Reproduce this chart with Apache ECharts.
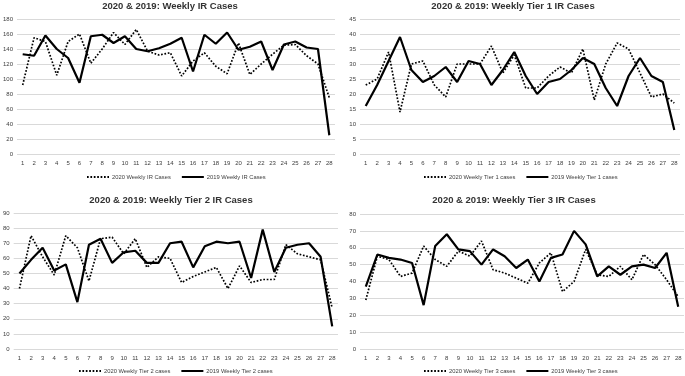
<!DOCTYPE html>
<html>
<head>
<meta charset="utf-8">
<script src="https://cdn.jsdelivr.net/npm/echarts@6/dist/echarts.min.js"></script>
<style>
  html, body { margin: 0; padding: 0; background: #fff; }
  #main { width: 685px; height: 376px; }
</style>
</head>
<body>
<div id="main"></div>
<script>
// weeks 1..28
var weeks = ['1', '2', '3', '4', '5', '6', '7', '8', '9', '10', '11', '12', '13', '14',
  '15', '16', '17', '18', '19', '20', '21', '22', '23', '24', '25', '26', '27', '28'];

// IR cases
var ir2020 = [92, 155, 150, 105, 150, 160, 121, 140, 162, 146, 166, 137, 132, 135, 104, 124, 135, 117, 107, 148, 106, 120, 133, 145, 146, 131, 120, 75];
var ir2019 = [133, 131, 158, 140, 128, 95, 157, 159, 148, 157, 140, 137, 141, 147, 155, 110, 159, 147, 162, 139, 143, 150, 112, 146, 150, 142, 140, 25];
// Tier 1
var t1_2020 = [23, 25, 34, 14, 30, 31, 23, 19, 30, 30, 30, 36, 27, 33, 22, 22, 26, 29, 27, 35, 18, 30, 37, 35, 27, 19, 20, 17];
var t1_2019 = [16, 23, 31, 39, 28, 24, 26, 29, 24, 31, 30, 23, 28, 34, 26, 20, 24, 25, 28, 32, 30, 22, 16, 26, 32, 26, 24, 8];
// Tier 2
var t2_2020 = [40, 75, 61, 49, 75, 67, 45, 73, 74, 63, 73, 54, 61, 60, 44, 48, 51, 54, 40, 55, 44, 46, 46, 69, 63, 61, 59, 27];
var t2_2019 = [50, 59, 67, 52, 56, 31, 69, 73, 57, 64, 65, 57, 57, 70, 71, 54, 68, 71, 70, 71, 47, 79, 51, 67, 69, 70, 61, 15];
// Tier 3
var t3_2020 = [29, 55, 53, 43, 45, 61, 53, 49, 58, 55, 64, 47, 45, 42, 39, 51, 57, 34, 40, 59, 44, 43, 49, 41, 56, 50, 41, 31];
var t3_2019 = [37, 56, 54, 53, 51, 26, 61, 68, 59, 58, 50, 59, 55, 48, 53, 40, 54, 56, 70, 62, 43, 49, 44, 49, 50, 48, 57, 25];

var titles = [
  '2020 & 2019: Weekly IR Cases',
  '2020 & 2019: Weekly Tier 1 IR Cases',
  '2020 & 2019: Weekly Tier 2 IR Cases',
  '2020 & 2019: Weekly Tier 3 IR Cases'
];
var names2020 = ['2020 Weekly IR Cases', '2020 Weekly Tier 1 cases', '2020 Weekly Tier 2 cases', '2020 Weekly Tier 3 cases'];
var names2019 = ['2019 Weekly IR Cases', '2019 Weekly Tier 1 cases', '2019 Weekly Tier 2 cases', '2019 Weekly Tier 3 cases'];
var yMax = [180, 45, 90, 80];
var yStep = [20, 5, 10, 10];
var data2020 = [ir2020, t1_2020, t2_2020, t3_2020];
var data2019 = [ir2019, t1_2019, t2_2019, t3_2019];

// panel layout
var grids = [
  { left: 16, right: 350, top: 19, bottom: 222 },
  { left: 360, right: 5, top: 19, bottom: 222 },
  { left: 13, right: 347, top: 213, bottom: 27 },
  { left: 360, right: 1, top: 214, bottom: 27 }
];
var titlePos = [{ x: 170, y: 1 }, { x: 513, y: 1 }, { x: 171, y: 195 }, { x: 514, y: 195 }];
var legendPos = [{ x: 86, y: 174 }, { x: 423, y: 174 }, { x: 78, y: 368 }, { x: 423, y: 368 }];

var FONT = '"Liberation Sans", Arial, sans-serif';

var option = {
  backgroundColor: '#fff',
  animation: false,
  title: [], grid: grids, xAxis: [], yAxis: [], legend: [], series: []
};

for (var i = 0; i < 4; i++) {
  option.title.push({
    text: titles[i],
    left: titlePos[i].x, top: titlePos[i].y,
    textAlign: 'center', padding: 0,
    textStyle: { fontSize: 9.5, fontWeight: 'bold', color: '#333', fontFamily: FONT }
  });
  option.xAxis.push({
    type: 'category', gridIndex: i, data: weeks, boundaryGap: true,
    axisLine: { show: false }, axisTick: { show: false },
    axisLabel: { fontSize: 6, color: '#404040', margin: 6, interval: 0, fontFamily: FONT }
  });
  option.yAxis.push({
    type: 'value', gridIndex: i, min: 0, max: yMax[i], interval: yStep[i],
    axisLine: { show: false }, axisTick: { show: false },
    axisLabel: { fontSize: 6, color: '#404040', margin: 4, fontFamily: FONT },
    splitLine: { lineStyle: { color: '#d9d9d9', width: 1 } }
  });
  option.legend.push({
    data: [names2020[i], names2019[i]],
    left: legendPos[i].x, top: legendPos[i].y, padding: 0,
    itemWidth: 22, itemHeight: 4, itemGap: 10,
    itemStyle: { opacity: 0 },
    textStyle: { fontSize: 5.8, color: '#404040', fontFamily: FONT, padding: [0, 0, 0, -2] }
  });
  option.series.push({
    name: names2020[i], type: 'line', xAxisIndex: i, yAxisIndex: i,
    data: data2020[i], symbol: 'none',
    lineStyle: { color: '#000', width: 1.7, type: [1.7, 1.7] },
    itemStyle: { color: '#000' }
  });
  option.series.push({
    name: names2019[i], type: 'line', xAxisIndex: i, yAxisIndex: i,
    data: data2019[i], symbol: 'none',
    lineStyle: { color: '#000', width: 2.2 },
    itemStyle: { color: '#000' }
  });
}

var chart = echarts.init(document.getElementById('main'));
chart.setOption(option);
</script>
</body>
</html>
